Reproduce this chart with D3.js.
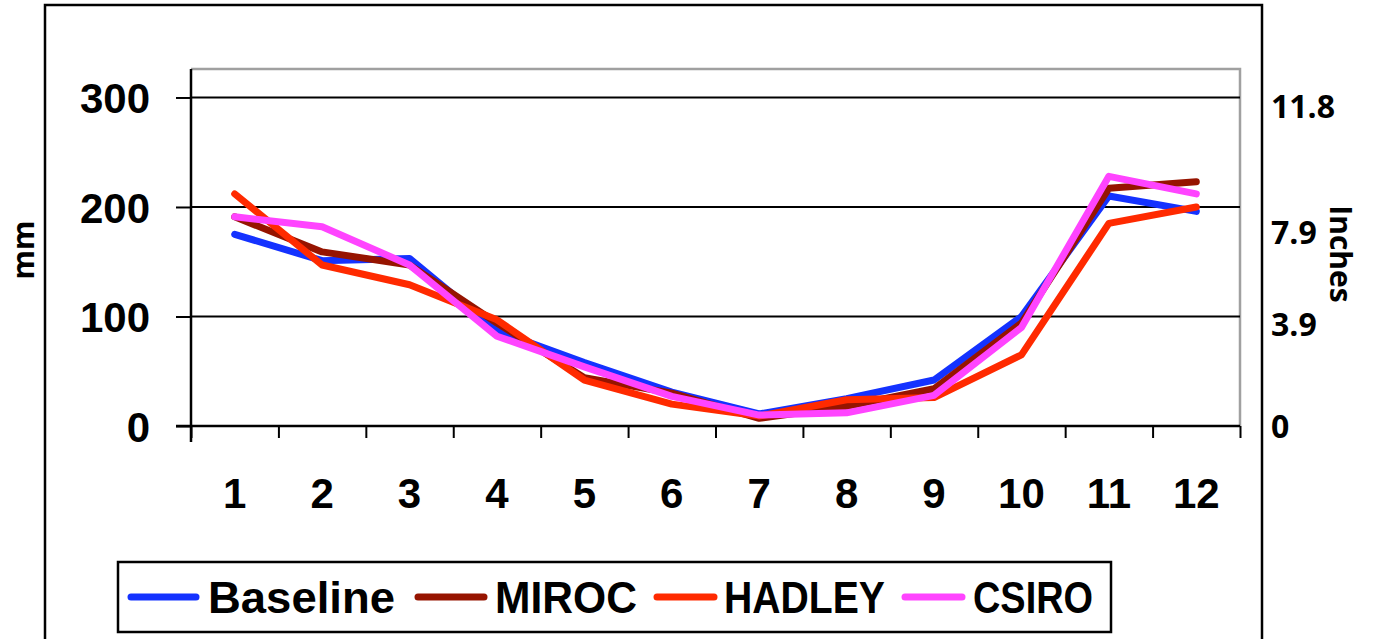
<!DOCTYPE html>
<html>
<head>
<meta charset="utf-8">
<script src="https://cdn.jsdelivr.net/npm/d3@7"></script>
<style>
  body { margin: 0; background: #fff; }
  svg { display: block; }
</style>
</head>
<body>
<svg></svg>
<script>
// Data =======================================================================

const months = ["1", "2", "3", "4", "5", "6", "7", "8", "9", "10", "11", "12"];
const baseline = [175, 151, 153, 87, 58, 31, 11, 25, 42, 100, 210, 196];
const miroc = [191, 159, 147, 94, 44, 30, 7, 18, 34, 94, 217, 223];
const hadley = [212, 147, 129, 97, 42, 20, 9, 24, 26, 65, 185, 200];
const csiro = [191, 182, 147, 82, 54, 27, 10, 12, 28, 90, 228, 212];
const mmTicks = [0, 100, 200, 300];
const inchTicks = [0, 3.9, 7.9, 11.8];

const seriesNames = ["Baseline", "MIROC", "HADLEY", "CSIRO"];
const seriesData = [baseline, miroc, hadley, csiro];
const colors = ["#1432ff", "#961400", "#ff2a00", "#ff44ff"];

// Layout =====================================================================

const W = 1374, H = 639;
const plotL = 191, plotR = 1240, plotT = 69, plotB = 426;
const inchNudge = [0, 7, 26, 9]; // text boxes in the original sit a bit off the gridlines
const sideFont = "'Open Sans', Lato, sans-serif";
const mainFont = "'Liberation Sans', Arial, sans-serif";

const svg = d3.select("svg").attr("width", W).attr("height", H);

// outer chart frame
svg.append("rect")
  .attr("x", 45).attr("y", 5)
  .attr("width", 1217).attr("height", 700)
  .attr("fill", "none").attr("stroke", "#000").attr("stroke-width", 2.5);

// Scales =====================================================================

const x = d3.scaleBand().domain(months).range([plotL, plotR]);
const xEdge = d3.scaleLinear().domain([0, months.length]).range([plotL, plotR]);
const y = d3.scaleLinear().domain([0, 326]).range([plotB, plotT]);
const yIn = d3.scaleLinear().domain([0, 326 / 25.4]).range([plotB, plotT]);

// plot area border (grey top / right)
svg.append("path")
  .attr("d", `M${plotL},${plotT}H${plotR}V${plotB}`)
  .attr("fill", "none").attr("stroke", "#a0a0a0").attr("stroke-width", 2.5);

// gridlines
svg.append("g")
  .selectAll("line")
  .data(mmTicks.filter(d => d > 0))
  .enter()
  .append("line")
  .attr("x1", plotL).attr("x2", plotR)
  .attr("y1", d => y(d)).attr("y2", d => y(d))
  .attr("stroke", "#000").attr("stroke-width", 2);

// Axes =======================================================================

const yAxis = svg.append("g")
  .attr("transform", `translate(${plotL},0)`)
  .call(d3.axisLeft(y).tickValues(mmTicks).tickSize(15).tickPadding(26));
yAxis.select(".domain").remove();
yAxis.selectAll("line").attr("stroke", "#000").attr("stroke-width", 2);
yAxis.selectAll("text")
  .attr("font-family", mainFont)
  .attr("font-weight", "bold")
  .attr("font-size", 42)
  .attr("fill", "#000")
  .attr("dy", "0.36em");

// left axis line runs a little below the x axis
svg.append("line")
  .attr("x1", plotL).attr("x2", plotL)
  .attr("y1", plotT).attr("y2", 442)
  .attr("stroke", "#000").attr("stroke-width", 2.5);

// x axis: edge ticks + labels in the middle of each band
const xTicks = svg.append("g")
  .attr("transform", `translate(0,${plotB})`)
  .call(d3.axisBottom(xEdge).tickValues(d3.range(months.length + 1)).tickSize(12).tickFormat(""));
xTicks.select(".domain").remove();
xTicks.selectAll("line").attr("stroke", "#000").attr("stroke-width", 2);

svg.append("line")
  .attr("x1", 176).attr("x2", plotR)
  .attr("y1", plotB).attr("y2", plotB)
  .attr("stroke", "#000").attr("stroke-width", 2.5);

const xAxis = svg.append("g")
  .attr("transform", `translate(0,${plotB})`)
  .call(d3.axisBottom(x).tickSize(0).tickPadding(0));
xAxis.select(".domain").remove();
xAxis.selectAll("text")
  .attr("font-family", mainFont)
  .attr("font-weight", "bold")
  .attr("font-size", 42)
  .attr("fill", "#000")
  .attr("dy", 0)
  .attr("y", 82);

// right axis in inches, labels only
const yRight = svg.append("g")
  .attr("transform", `translate(${plotR},0)`)
  .call(d3.axisRight(yIn).tickValues(inchTicks).tickSize(0).tickPadding(31)
    .tickFormat(d => d === 0 ? "0" : d3.format(".1f")(d)));
yRight.select(".domain").remove();
yRight.selectAll("text")
  .attr("font-family", sideFont)
  .attr("font-weight", 700)
  .attr("font-size", 32)
  .attr("fill", "#000")
  .attr("dy", (d, i) => 11 + inchNudge[i]);

// axis titles
svg.append("text")
  .attr("transform", "translate(34,250) rotate(-90)")
  .attr("text-anchor", "middle")
  .attr("font-family", sideFont)
  .attr("font-weight", 700)
  .attr("font-size", 30)
  .text("mm");

svg.append("text")
  .attr("transform", "translate(1330,254) rotate(90)")
  .attr("text-anchor", "middle")
  .attr("font-family", sideFont)
  .attr("font-weight", 700)
  .attr("font-size", 30)
  .text("Inches");

// Lines ======================================================================

const line = d3.line()
  .x((d, i) => x(months[i]) + x.bandwidth() / 2)
  .y(d => y(d));

svg.append("g")
  .selectAll("path")
  .data(seriesData)
  .enter()
  .append("path")
  .attr("d", d => line(d))
  .attr("fill", "none")
  .attr("stroke", (d, i) => colors[i])
  .attr("stroke-width", 7)
  .attr("stroke-linecap", "round")
  .attr("stroke-linejoin", "round");

// Legend =====================================================================

svg.append("rect")
  .attr("x", 118).attr("y", 562)
  .attr("width", 993).attr("height", 70)
  .attr("fill", "#fff").attr("stroke", "#000").attr("stroke-width", 2.5);

// swatch start/end and text start/width for each entry
const legendSwatch = [[131, 196], [418, 484], [657, 714], [905, 962]];
const legendText = [[208, 187], [495, 142], [724, 161], [973, 120]];

const legend = svg.append("g")
  .selectAll("g")
  .data(seriesNames)
  .enter()
  .append("g");

legend.append("line")
  .attr("x1", (d, i) => legendSwatch[i][0])
  .attr("x2", (d, i) => legendSwatch[i][1])
  .attr("y1", 597).attr("y2", 597)
  .attr("stroke", (d, i) => colors[i])
  .attr("stroke-width", 7)
  .attr("stroke-linecap", "round");

legend.append("text")
  .attr("x", (d, i) => legendText[i][0])
  .attr("y", 613)
  .attr("textLength", (d, i) => legendText[i][1])
  .attr("lengthAdjust", "spacingAndGlyphs")
  .attr("font-family", mainFont)
  .attr("font-weight", "bold")
  .attr("font-size", 44)
  .text(d => d);
</script>
</body>
</html>
